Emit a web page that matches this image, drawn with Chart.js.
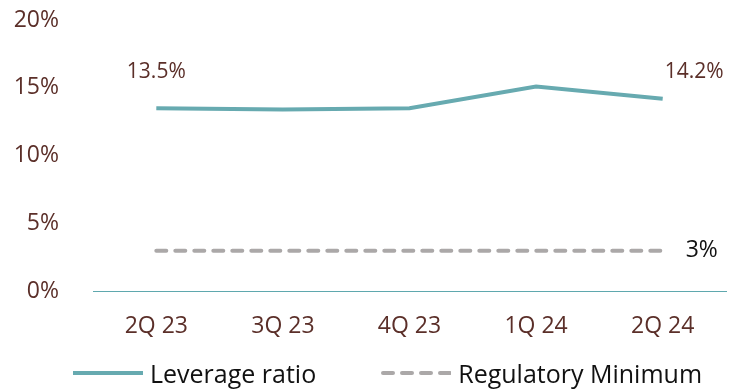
<!DOCTYPE html>
<html>
<head>
<meta charset="utf-8">
<script src="https://cdn.jsdelivr.net/npm/chart.js@4"></script>
<style>
  html, body { margin: 0; padding: 0; background: #fff; }
  #wrap { position: relative; width: 731px; height: 390px; }
  #legend {
    position: absolute; left: 73px; top: 358px;
    display: flex; align-items: center;
    font-family: "Open Sans", "Noto Sans", sans-serif; font-size: 25px; color: #111;
    line-height: 30px; white-space: nowrap;
  }
  #legend .item { display: flex; align-items: center; }
  #legend .item + .item { margin-left: 65px; }
  #legend svg { margin-right: 7px; }
</style>
</head>
<body>
<div id="wrap">
  <canvas id="leverageChart" width="731" height="390"></canvas>
  <div id="legend"></div>
</div>
<script>
// Quarterly leverage ratio vs. the regulatory floor
const quarters = ['2Q 23', '3Q 23', '4Q 23', '1Q 24', '2Q 24'];
const leverageRatio = [13.5, 13.4, 13.5, 15.1, 14.2];
const regulatoryMin = [3, 3, 3, 3, 3];
const yTicks = [0, 5, 10, 15, 20];

const brown = '#5b2f29';
const teal = '#67aab0';
const grey = '#aba8a8';
const fontFamily = '"Open Sans", "Noto Sans", sans-serif';

// value labels: first and last leverage point, and the 3% line
const valueLabels = {
    id: 'valueLabels',
    afterDatasetsDraw(chart) {
        const { ctx, scales: { x, y } } = chart;
        ctx.save();
        ctx.font = '21px ' + fontFamily;
        ctx.textBaseline = 'middle';
        const last = leverageRatio.length - 1;
        const labelY = y.getPixelForValue(16.2);

        ctx.fillStyle = brown;
        ctx.textAlign = 'center';
        ctx.fillText(leverageRatio[0].toFixed(1) + '%', x.getPixelForValue(0), labelY);
        ctx.textAlign = 'left';
        ctx.fillText(leverageRatio[last].toFixed(1) + '%', x.getPixelForValue(last) + 2, labelY);

        ctx.font = '23px ' + fontFamily;
        ctx.fillStyle = '#111';
        ctx.fillText(regulatoryMin[last] + '%', x.getPixelForValue(last) + 23, y.getPixelForValue(regulatoryMin[last]));
        ctx.restore();
    }
};

const ctx = document.getElementById('leverageChart').getContext('2d');

const chart = new Chart(ctx, {
    type: 'line',
    data: {
        labels: quarters,
        datasets: [
            {
                label: 'Leverage ratio',
                data: leverageRatio,
                borderColor: teal,
                backgroundColor: teal,
                borderWidth: 4,
                pointRadius: 0,
                tension: 0
            },
            {
                label: 'Regulatory Minimum',
                data: regulatoryMin,
                borderColor: grey,
                backgroundColor: grey,
                borderWidth: 4,
                borderDash: [10, 9],
                borderCapStyle: 'round',
                pointRadius: 0,
                tension: 0
            }
        ]
    },
    options: {
        responsive: false,
        animation: false,
        layout: { padding: { left: 12, right: 5, top: 20, bottom: 29 } },
        scales: {
            x: {
                offset: true,
                grid: { display: false, drawTicks: false },
                border: { display: true, color: '#5fa8ae', width: 1 },
                ticks: { color: brown, padding: 21, font: { family: fontFamily, size: 23 } }
            },
            y: {
                min: 0,
                max: 20,
                afterBuildTicks: (axis) => { axis.ticks = yTicks.map(v => ({ value: v })); },
                // tick padding only pushes labels left; keep it out of width/top
                afterFit: (axis) => {
                    axis.width = 81;
                    axis.paddingTop = 14;
                    axis.paddingBottom = 14;
                },
                grid: { display: false, drawTicks: false },
                border: { display: false },
                ticks: {
                    color: brown,
                    padding: 34,
                    font: { family: fontFamily, size: 23 },
                    callback: (v) => v + '%'
                }
            }
        },
        plugins: {
            tooltip: { enabled: false },
            legend: { display: false }
        }
    },
    plugins: [valueLabels]
});

// legend below the plot, built from the datasets
const legendEl = document.getElementById('legend');
chart.data.datasets.forEach((ds) => {
    const dash = ds.borderDash ? ds.borderDash.join(' ') : 'none';
    const cap = ds.borderCapStyle || 'butt';
    const item = document.createElement('div');
    item.className = 'item';
    item.innerHTML =
        '<svg width="70" height="8"><line x1="' + (cap === 'round' ? 2 : 0) + '" y1="4" x2="70" y2="4" stroke="' + ds.borderColor +
        '" stroke-width="' + ds.borderWidth + '" stroke-dasharray="' + dash + '" stroke-linecap="' + cap + '"/></svg>' +
        '<span>' + ds.label + '</span>';
    legendEl.appendChild(item);
});
</script>
</body>
</html>
